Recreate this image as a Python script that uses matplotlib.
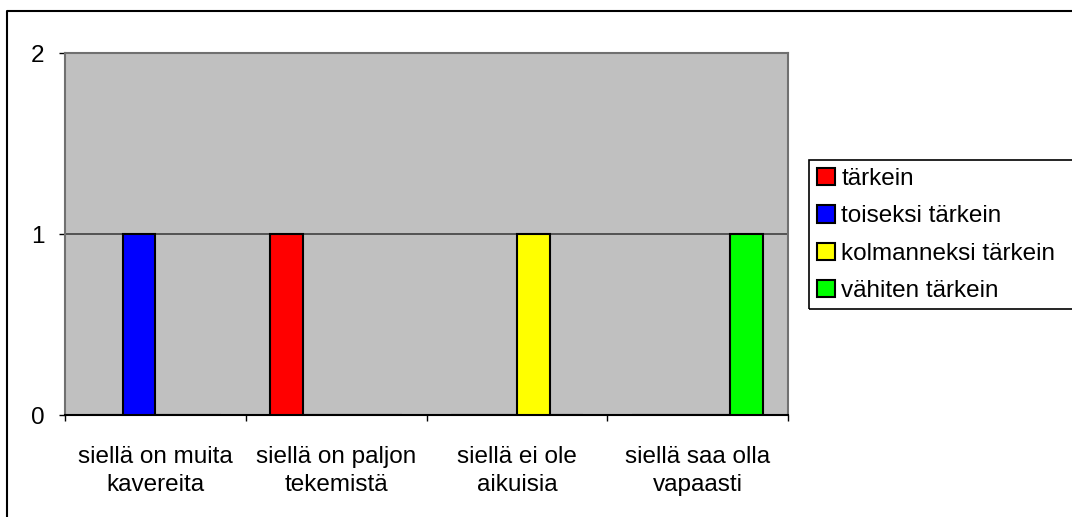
import numpy as np
import matplotlib
matplotlib.use("Agg")
import matplotlib.pyplot as plt
from matplotlib.lines import Line2D
from matplotlib.patches import Rectangle

plt.rcParams['font.family'] = ['Liberation Sans', 'DejaVu Sans']

# data
categories = ["siellä on muita\nkavereita", "siellä on paljon\ntekemistä",
              "siellä ei ole\naikuisia", "siellä saa olla\nvapaasti"]
series_names = ["tärkein", "toiseksi tärkein", "kolmanneksi tärkein", "vähiten tärkein"]
tarkein = [0, 1, 0, 0]
toiseksi = [1, 0, 0, 0]
kolmanneksi = [0, 0, 1, 0]
vahiten = [0, 0, 0, 1]
colors = ["#FF0000", "#0000FF", "#FFFF00", "#00FF00"]
yticks = [0, 1, 2]

W, H = 1072, 517
fig = plt.figure(figsize=(W / 100, H / 100), dpi=100)
ax = fig.add_axes([65 / W, 1 - 415 / H, (788 - 65) / W, (415 - 53) / H])
ax.set_facecolor("#C0C0C0")

x = np.arange(len(categories))
w = 1 / 5.5
values = [tarkein, toiseksi, kolmanneksi, vahiten]
for i, (name, vals) in enumerate(zip(series_names, values)):
    ax.bar(x + (i - 1.5) * w, vals, width=w, color=colors[i], edgecolor="black",
           linewidth=1.5, label=name, zorder=3)

fs = 17.5
ax.set_xlim(-0.5, len(categories) - 0.5)
ax.set_ylim(0, 2)
ax.set_yticks(yticks)
ax.set_yticklabels([str(t) for t in yticks], fontsize=fs)
ax.set_xticks(x)
ax.set_xticklabels(categories, fontsize=fs, linespacing=1.38)
ax.set_xticks(np.arange(-0.5, len(categories)), minor=True)
ax.tick_params(axis="x", which="major", length=0, pad=22)
ax.tick_params(axis="x", which="minor", length=4, width=1, color="black", direction="out")
ax.tick_params(axis="y", length=4, width=1, color="black", pad=11)

ax.yaxis.grid(True, color="#404040", linewidth=1.2, zorder=1)
ax.set_axisbelow(True)
for s in ["top", "right", "left"]:
    ax.spines[s].set_color("#707070")
    ax.spines[s].set_linewidth(1.5)
ax.spines["bottom"].set_color("black")
ax.spines["bottom"].set_linewidth(1.5)

# legend
leg = fig.legend(loc="center left", bbox_to_anchor=(817 / W, 1 - 235 / H),
                 frameon=False, fontsize=fs, handlelength=0.72, handleheight=0.72,
                 handletextpad=0.28, labelspacing=0.62, borderpad=0, borderaxespad=0)
for p in leg.get_patches():
    p.set_linewidth(1.5)
fig.patches.append(Rectangle((809 / W, 1 - 309 / H), (1080 - 809) / W, (309 - 160) / H,
                             transform=fig.transFigure, fill=False, edgecolor="black",
                             linewidth=1.2))

# outer chart border (top and left visible)
fig.add_artist(Line2D([7 / W, 7 / W, 1.01], [-0.01, 1 - 11 / H, 1 - 11 / H],
                      transform=fig.transFigure, color="black", linewidth=1.5))

fig.savefig("out.png", dpi=100)
